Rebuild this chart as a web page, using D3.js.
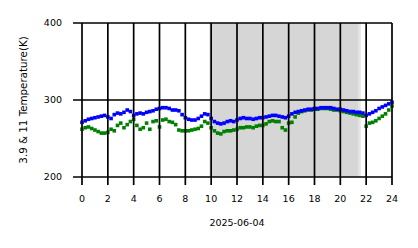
<!DOCTYPE html>
<html>
<head>
<meta charset="utf-8">
<script src="https://cdn.jsdelivr.net/npm/d3@7"></script>
<style>
  body { margin: 0; background: #fff; }
  text { font-family: "DejaVu Sans", sans-serif; }
</style>
</head>
<body>
<script>
// hours of the day, one sample every 15 minutes
var hours = d3.range(0, 24.001, 0.25);

var temp39 = [271, 273, 275, 276, 277, 278, 279, 280, 278, 276, 281, 283, 282, 284, 287, 285,
  280, 282, 283, 282, 284, 285, 286, 288, 289, 290, 290, 289, 287, 287, 286, 281,
  277, 275, 274, 274, 276, 279, 282, 281, 276, 272, 270, 269, 270, 272, 273, 272,
  274, 276, 277, 276, 276, 275, 276, 277, 277, 278, 279, 280, 280, 279, 278, 277,
  279, 282, 284, 285, 286, 287, 288, 288, 289, 289, 290, 290, 290, 290, 289, 288,
  288, 287, 286, 285, 285, 284, 284, 283, 280, 282, 284, 286, 289, 291, 293, 295, 297];

var temp11 = [262, 264, 265, 263, 261, 259, 257, 257, 258, 262, 260, 267, 270, 264, 268, 272,
  275, 267, 262, 264, 270, 262, 272, 273, 265, 274, 275, 272, 271, 268, 261, 260,
  260, 260, 261, 262, 263, 266, 272, 270, 264, 260, 257, 256, 259, 260, 260, 261,
  262, 264, 264, 265, 265, 264, 266, 267, 267, 269, 272, 273, 272, 272, 264, 261,
  270, 271, 278, 283, 285, 286, 287, 287, 288, 288, 289, 289, 289, 288, 287, 287,
  286, 285, 284, 283, 282, 281, 280, 279, 266, 270, 271, 273, 276, 279, 282, 287, 292];

var xTicks = d3.range(0, 25, 2);
var yTicks = [200, 300, 400];
var nightSpan = [9.87, 21.42];
var edgeSpan = [21.42, 21.58];

var svg = d3.select('body').append('svg')
  .attr('width', 418)
  .attr('height', 248);

var margin = { top: 23, right: 26, bottom: 71, left: 82 },
  width = 418 - margin.left - margin.right,
  height = 248 - margin.top - margin.bottom;

var g = svg.append('g').attr('transform', 'translate(' + margin.left + ',' + margin.top + ')');

var x = d3.scaleLinear().domain([0, 24]).range([0, width]);
var y = d3.scaleLinear().domain([200, 400]).range([height, 0]);

g.append('rect')
  .attr('x', x(nightSpan[0]))
  .attr('width', x(nightSpan[1]) - x(nightSpan[0]))
  .attr('y', 0).attr('height', height)
  .style('fill', '#d6d6d6');

g.append('rect')
  .attr('x', x(edgeSpan[0]))
  .attr('width', x(edgeSpan[1]) - x(edgeSpan[0]))
  .attr('y', 0).attr('height', height)
  .style('fill', '#e4e4e4');

var ms = 3.6;
function dots(values, color) {
  g.append('g').selectAll('rect')
    .data(values)
    .enter().append('rect')
    .attr('x', function(d, i) { return x(hours[i]) - ms / 2; })
    .attr('y', function(d) { return y(d) - ms / 2; })
    .attr('width', ms).attr('height', ms)
    .style('fill', color);
}
dots(temp11, '#008000');
dots(temp39, '#0000ff');

// grid lines on top of the markers, extended outward as ticks
var grid = g.append('g').style('stroke', '#000').style('stroke-width', 1.7);
grid.selectAll('.v').data(xTicks).enter().append('line')
  .attr('x1', function(d) { return x(d); }).attr('x2', function(d) { return x(d); })
  .attr('y1', 0).attr('y2', height + 8);
grid.selectAll('.h').data(yTicks).enter().append('line')
  .attr('x1', -9).attr('x2', width)
  .attr('y1', function(d) { return y(d); }).attr('y2', function(d) { return y(d); });

g.append('g').selectAll('text').data(xTicks).enter().append('text')
  .attr('x', function(d) { return x(d); })
  .attr('y', height + 25)
  .style('text-anchor', 'middle')
  .style('font-size', '9.5px')
  .text(function(d) { return d; });

g.append('g').selectAll('text').data(yTicks).enter().append('text')
  .attr('x', -20)
  .attr('y', function(d) { return y(d); })
  .attr('dy', '0.35em')
  .style('text-anchor', 'end')
  .style('font-size', '9.5px')
  .text(function(d) { return d; });

svg.append('text')
  .attr('x', margin.left + width / 2)
  .attr('y', 226)
  .style('text-anchor', 'middle')
  .style('font-size', '9.5px')
  .text('2025-06-04');

svg.append('text')
  .attr('transform', 'translate(27,' + (margin.top + height / 2) + ') rotate(-90)')
  .style('text-anchor', 'middle')
  .style('font-size', '10.3px')
  .text('3.9 & 11 Temperature(K)');
</script>
</body>
</html>
